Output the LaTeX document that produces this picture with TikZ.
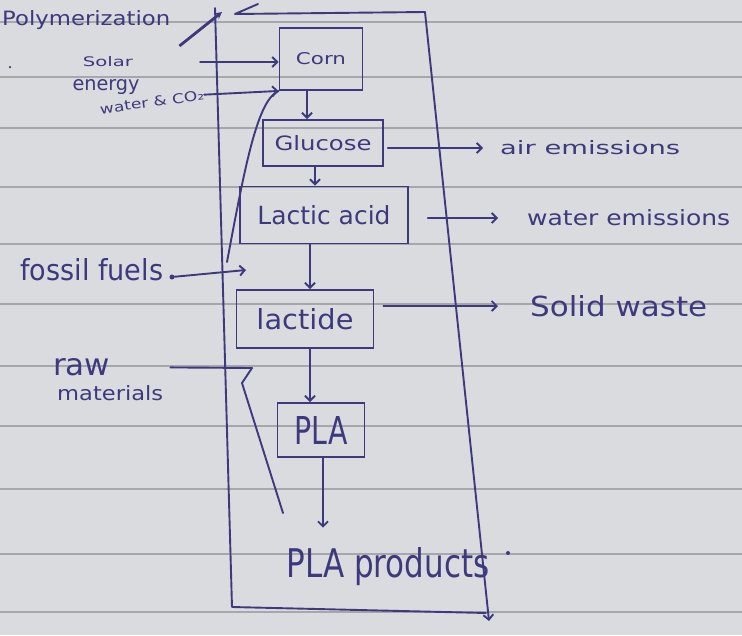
\documentclass[tikz,border=0pt]{standalone}
\usepackage{graphicx}
\usepackage{fontspec}
\setmainfont{DejaVu Sans}
\usetikzlibrary{arrows.meta}
\definecolor{paper}{RGB}{218,219,223}
\definecolor{ink}{RGB}{60,58,124}
\definecolor{ruling}{RGB}{165,167,173}
\newcommand{\hw}[3]{\resizebox{#1pt}{#2pt}{#3}}
\tikzset{
  box/.style={draw=ink, line width=1.9pt, inner sep=0pt, text=ink},
  lab/.style={inner sep=0pt, text=ink},
  pen/.style={draw=ink, line width=1.9pt, line cap=round, line join=round},
  arr/.style={pen, -{Straight Barb[length=5pt,width=10pt]}},
  inkdot/.style={circle, fill=ink, inner sep=0pt, minimum size=#1},
}
\begin{document}
\begin{tikzpicture}[x=1pt,y=-1pt]
\fill[paper] (0,0) rectangle (742,635);
\useasboundingbox (0,0) rectangle (742,635);
\foreach \yy in {22,77,128,187,244,304,366,426,489,554,612}
  \draw[ruling, line width=1.1pt] (0,\yy) -- (742,\yy);

% process boxes
\node[box, minimum width=83pt, minimum height=62pt] (corn) at (321,59) {\hw{50}{12}{Corn}};
\node[box, minimum width=120pt, minimum height=46pt] (glu) at (323,143) {\hw{97}{15}{Glucose}};
\node[box, minimum width=168pt, minimum height=57pt] (lac) at (324,215) {\hw{133}{19}{Lactic acid}};
\node[box, minimum width=137pt, minimum height=58pt] (lcd) at (305,319) {\hw{97}{21}{lactide}};
\node[box, minimum width=87pt, minimum height=54pt] (pla) at (321,430) {\hw{53}{28}{PLA}};
\node[lab] (prod) at (388,567) {\hw{203}{30}{PLA products}};
\node[inkdot=4pt] (pdot) at (508,553) {};

% vertical flow
\draw[arr] ([xshift=-14pt]corn.south) -- ([xshift=-14pt]corn.south |- glu.north);
\draw[arr] ([xshift=-8pt]glu.south) -- ([xshift=-8pt]glu.south |- lac.north);
\draw[arr] ([xshift=-14pt]lac.south) -- ([xshift=-14pt]lac.south |- lcd.north);
\draw[arr] ([xshift=5pt]lcd.south) -- ([xshift=5pt]lcd.south |- pla.north);
\draw[arr, shorten >=20pt] ([xshift=2pt]pla.south) -- ([xshift=2pt]pla.south |- prod.north);

% outputs
\node[lab, anchor=west] (air) at (500,148) {\hw{180}{14}{air emissions}};
\node[lab, anchor=west] (wat) at (527,218) {\hw{203}{16}{water emissions}};
\node[lab, anchor=west] (sol) at (530,306) {\hw{177}{21}{Solid waste}};
\draw[arr, shorten <=4pt, shorten >=17pt] (glu.east |- air.west) -- (air.west);
\draw[arr, shorten <=19pt, shorten >=29pt] (lac.east |- wat.west) -- (wat.west);
\draw[arr, shorten <=9pt, shorten >=32pt] (lcd.east |- sol.west) -- (sol.west);

% inputs
\node[lab, anchor=west] (poly) at (2,20) {\hw{168}{15}{Polymerization}};
\coordinate (pa) at (222,12);
\draw[draw=ink, line width=2.8pt, -{Stealth[length=7pt,width=7pt]}] ([xshift=9pt,yshift=-26pt]poly.east) -- (pa);
\node[inkdot=2.5pt] (tdot) at (10,67) {};

\node[lab] (solar) at (108,62) {\hw{50}{10}{Solar}};
\node[lab] (energy) at (106,87) {\hw{67}{11}{energy}};
\node[lab, rotate=8] (water) at (152,102) {\hw{105}{10}{water \& CO₂}};
\draw[arr, shorten <=67pt] (solar.east) -- (solar.east -| corn.west);
\draw[arr] (water.east) -- (corn.south west);
\draw[pen] (corn.south west) .. controls (258,100) and (246,160) .. (227,262);

\node[lab, anchor=west] (fos) at (20,270) {\hw{143}{22}{fossil fuels}};
\node[inkdot=5pt] (fd) at (172,277) {};
\coordinate (fe) at (246,270);
\draw[arr] (fd) -- (fe);

\node[lab, anchor=west] (raw1) at (53,367) {\hw{57}{17}{raw}};
\node[lab, anchor=west] (raw2) at (57,393) {\hw{106}{15}{materials}};
\coordinate (rt) at (252,368);
\coordinate (rb) at (242,383);
\coordinate (re) at (283,513);
\draw[pen, shorten <=60pt] (raw1.east) -- (rt);
\draw[pen] (rt) -- (rb) -- (re);

% outer frame
\coordinate (ftl) at (215,8);
\coordinate (fbl) at (232,607);
\coordinate (fbr) at (486,613);
\coordinate (ftr) at (425,12);
\coordinate (fbe) at (489,621);
\coordinate (fhk) at (258,4);
\coordinate (fts) at (235,14);
\draw[pen] (ftl) -- (fbl) -- (fbr);
\draw[arr] (ftr) -- (fbe);
\draw[pen] (fhk) -- (fts) -- (ftr);
\end{tikzpicture}
\end{document}
